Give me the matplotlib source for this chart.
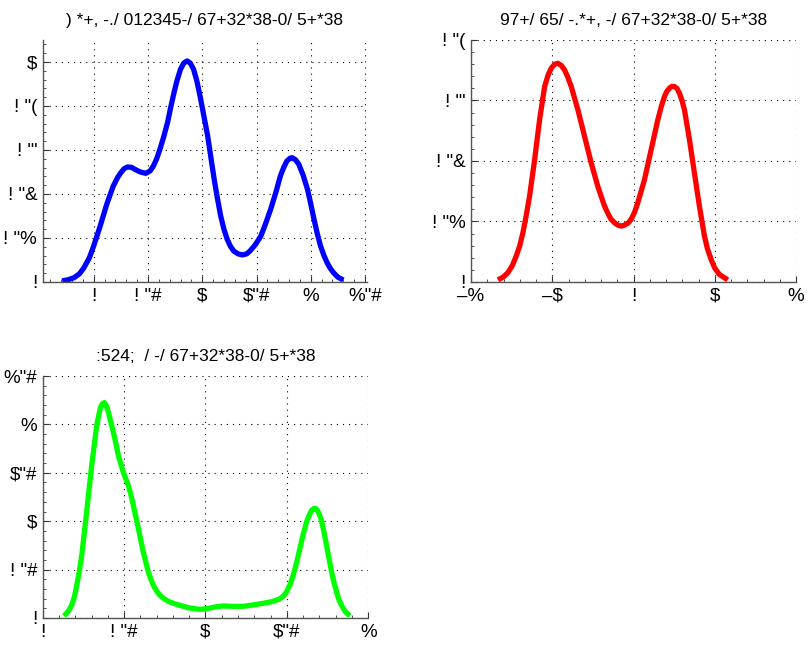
import numpy as np
import matplotlib

matplotlib.use("Agg")
import matplotlib.pyplot as plt
from matplotlib.ticker import AutoMinorLocator

plt.rcParams.update({
    "font.family": ["Liberation Sans", "DejaVu Sans"],
    "font.size": 12,
    "figure.facecolor": "white",
})

# titles / tick labels exactly as they appear in the reference picture
TITLE_BLUE = ") *+, -./ 012345-/ 67+32*38-0/ 5+*38"
TITLE_RED = "97+/ 65/ -.*+, -/ 67+32*38-0/ 5+*38"
TITLE_GREEN = ":524;  / -/ 67+32*38-0/ 5+*38"

# top-left (blue) curve
blue_x = [-0.29, -0.23, -0.18, -0.13, -0.09, -0.04, 0.0, 0.06, 0.12, 0.18,
          0.22, 0.25, 0.28, 0.31, 0.35, 0.38, 0.43, 0.48, 0.52, 0.55, 0.58,
          0.61, 0.645, 0.68, 0.71, 0.74, 0.77, 0.80, 0.83, 0.86, 0.89, 0.92,
          0.95, 0.98, 1.015, 1.05, 1.08, 1.11, 1.14, 1.17, 1.20, 1.23, 1.26,
          1.29, 1.33, 1.37, 1.41, 1.44, 1.49, 1.54, 1.58, 1.63, 1.68, 1.72,
          1.75, 1.78, 1.81, 1.83, 1.86, 1.89, 1.93, 1.97, 2.00, 2.03, 2.06,
          2.09, 2.12, 2.15, 2.18, 2.21, 2.25, 2.30]
blue_y = [0.005, 0.011, 0.02, 0.038, 0.065, 0.11, 0.164, 0.255, 0.353, 0.436,
          0.475, 0.497, 0.515, 0.523, 0.521, 0.512, 0.50, 0.494, 0.505, 0.527,
          0.56, 0.603, 0.66, 0.724, 0.795, 0.861, 0.92, 0.967, 0.995, 1.005,
          0.995, 0.967, 0.915, 0.845, 0.755, 0.664, 0.565, 0.467, 0.38, 0.30,
          0.24, 0.194, 0.162, 0.141, 0.128, 0.123, 0.128, 0.141, 0.17, 0.209,
          0.26, 0.33, 0.41, 0.482, 0.52, 0.55, 0.563, 0.565, 0.555, 0.535,
          0.485, 0.421, 0.355, 0.285, 0.22, 0.164, 0.122, 0.088, 0.062, 0.042,
          0.022, 0.009]
blue_xticks = [0, 0.5, 1, 1.5, 2, 2.5]
blue_xlabels = ["!", '! "#', "$", '$"#', "%", '%"#']
blue_yticks = [0, 0.2, 0.4, 0.6, 0.8, 1.0]
blue_ylabels = ["!", '! "%', '! "&', "! \"'", '! "(', "$"]

# top-right (red) curve
red_x = [-1.668, -1.60, -1.545, -1.49, -1.443, -1.40, -1.361, -1.32, -1.279,
         -1.217, -1.156, -1.12, -1.094, -1.05, -1.012, -0.97, -0.93, -0.89,
         -0.848, -0.81, -0.766, -0.684, -0.602, -0.52, -0.439, -0.357, -0.31,
         -0.275, -0.23, -0.193, -0.155, -0.119, -0.07, -0.029, 0.012, 0.053,
         0.135, 0.217, 0.299, 0.34, 0.381, 0.41, 0.443, 0.474, 0.504, 0.535,
         0.566, 0.597, 0.627, 0.689, 0.75, 0.811, 0.873, 0.91, 0.955, 1.00,
         1.057, 1.16]
red_y = [0.007, 0.017, 0.031, 0.055, 0.086, 0.12, 0.163, 0.22, 0.284, 0.404,
         0.536, 0.60, 0.646, 0.685, 0.707, 0.72, 0.723, 0.716, 0.701, 0.678,
         0.646, 0.569, 0.481, 0.393, 0.316, 0.251, 0.224, 0.207, 0.195, 0.188,
         0.185, 0.187, 0.194, 0.207, 0.23, 0.262, 0.338, 0.437, 0.536, 0.578,
         0.613, 0.63, 0.641, 0.647, 0.646, 0.64, 0.624, 0.60, 0.569, 0.47,
         0.36, 0.251, 0.152, 0.11, 0.075, 0.046, 0.025, 0.007]
red_xticks = [-2, -1, 0, 1, 2]
red_xlabels = ["\u2013%", "\u2013$", "!", "$", "%"]
red_yticks = [0, 0.2, 0.4, 0.6, 0.8]
red_ylabels = ["!", '! "%', '! "&', "! \"'", '! "(']

# bottom-left (green) curve
green_x = [0.131, 0.155, 0.178, 0.195, 0.209, 0.225, 0.24, 0.27, 0.301,
           0.318, 0.332, 0.345, 0.356, 0.368, 0.379, 0.392, 0.403, 0.418,
           0.434, 0.45, 0.465, 0.48, 0.495, 0.51, 0.526, 0.541, 0.557, 0.588,
           0.618, 0.649, 0.665, 0.68, 0.70, 0.721, 0.745, 0.772, 0.805, 0.843,
           0.875, 0.905, 0.936, 0.966, 0.997, 1.028, 1.065, 1.10, 1.13, 1.161,
           1.195, 1.232, 1.275, 1.314, 1.355, 1.396, 1.43, 1.458, 1.48, 1.498,
           1.52, 1.539, 1.56, 1.58, 1.60, 1.621, 1.637, 1.652, 1.666, 1.679,
           1.695, 1.71, 1.727, 1.744, 1.775, 1.79, 1.806, 1.82, 1.836, 1.86,
           1.887]
green_y = [0.021, 0.065, 0.131, 0.22, 0.337, 0.48, 0.647, 1.095, 1.577, 1.80,
           1.99, 2.10, 2.18, 2.215, 2.225, 2.19, 2.128, 2.03, 1.921, 1.80,
           1.68, 1.59, 1.508, 1.44, 1.37, 1.28, 1.164, 0.923, 0.682, 0.475,
           0.40, 0.337, 0.28, 0.234, 0.20, 0.172, 0.15, 0.131, 0.115, 0.103,
           0.095, 0.09, 0.094, 0.103, 0.116, 0.124, 0.123, 0.121, 0.12, 0.121,
           0.13, 0.141, 0.152, 0.165, 0.18, 0.20, 0.228, 0.269, 0.345, 0.441,
           0.57, 0.716, 0.86, 0.992, 1.06, 1.112, 1.13, 1.13, 1.09, 1.026,
           0.90, 0.751, 0.475, 0.365, 0.269, 0.19, 0.131, 0.065, 0.021]
green_xticks = [0, 0.5, 1, 1.5, 2]
green_xlabels = ["!", '! "#', "$", '$"#', "%"]
green_yticks = [0, 0.5, 1, 1.5, 2, 2.5]
green_ylabels = ["!", '! "#', "$", '$"#', "%", '%"#']

W, H = 809, 646
fig = plt.figure(figsize=(W / 100, H / 100), dpi=100)


def panel(rect, x, y, color, title, xlim, ylim, xt, xl, yt, yl):
    ax = fig.add_axes(rect)
    ax.plot(x, y, color=color, lw=3.8, solid_capstyle="butt",
            solid_joinstyle="round")
    ax.set_xlim(*xlim)
    ax.set_ylim(*ylim)
    ax.set_xticks(xt)
    ax.set_xticklabels(xl)
    ax.set_yticks(yt)
    ax.set_yticklabels(yl)
    ax.xaxis.set_minor_locator(AutoMinorLocator(5))
    ax.yaxis.set_minor_locator(AutoMinorLocator(5))
    ax.tick_params(which="both", direction="in", color="#333333")
    ax.tick_params(which="major", length=4, pad=4, labelsize=13.5)
    ax.tick_params(which="minor", length=2)
    for s in ("top", "right"):
        ax.spines[s].set_visible(False)
    for s in ("left", "bottom"):
        ax.spines[s].set_color("#555555")
        ax.spines[s].set_linewidth(1.0)
    ax.grid(True, which="major", color="black", linestyle=(0, (1, 4.5)),
            linewidth=0.8)
    ax.set_axisbelow(True)
    ax.set_title(title, fontsize=12.5, pad=11)
    return ax


ax_h = 242 / H
panel([42.7 / W, 1 - 282 / H, 324.5 / W, ax_h], blue_x, blue_y, "#0000ff",
      TITLE_BLUE, (-0.47, 2.52), (0, 1.1),
      blue_xticks, blue_xlabels, blue_yticks, blue_ylabels)
panel([471 / W, 1 - 282 / H, 325 / W, ax_h], red_x, red_y, "#ff0000",
      TITLE_RED, (-2, 2), (0, 0.8),
      red_xticks, red_xlabels, red_yticks, red_ylabels)
panel([42.7 / W, 1 - 618 / H, 325.5 / W, ax_h], green_x, green_y, "#00ff00",
      TITLE_GREEN, (0, 2), (0, 2.5),
      green_xticks, green_xlabels, green_yticks, green_ylabels)

fig.savefig("out.png", dpi=100)
